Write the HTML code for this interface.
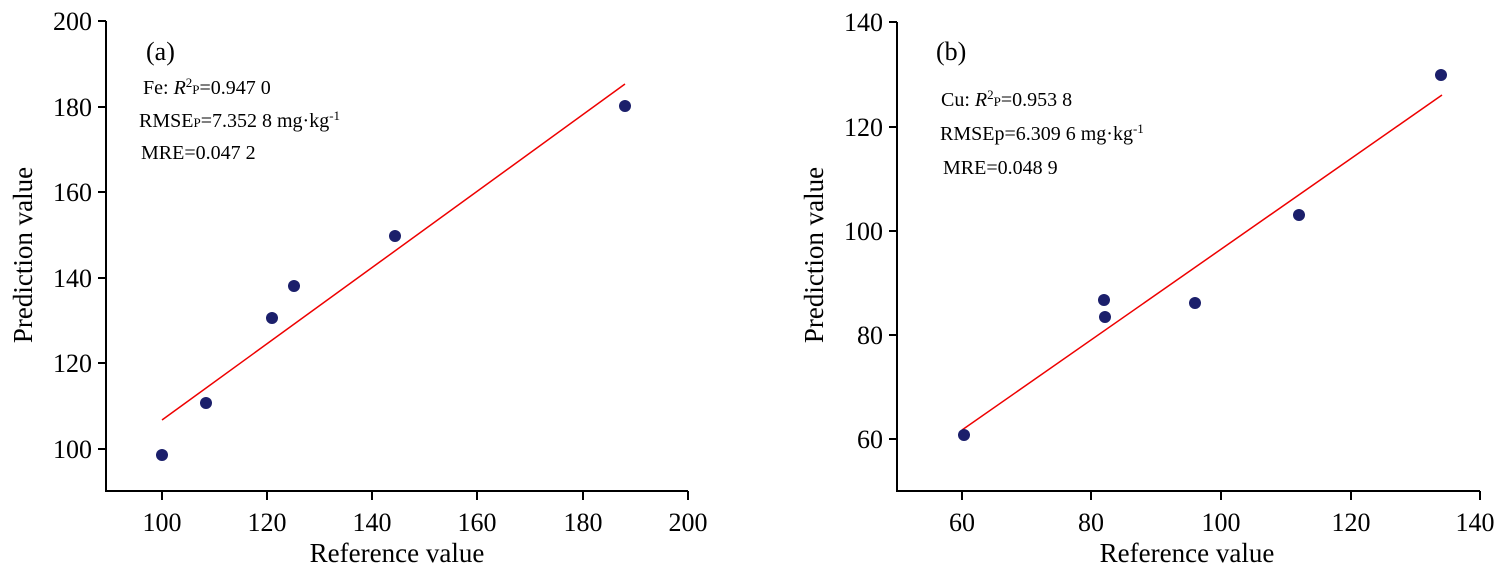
<!DOCTYPE html>
<html><head><style>body{margin:0;background:#fff}svg text{font-family:"Liberation Serif",serif;fill:#000}</style></head><body>
<svg width="1500" height="572" xmlns="http://www.w3.org/2000/svg">
<g stroke="#000" stroke-width="2" fill="none">
<path d="M106,21 V491 H688"/>
<path d="M98,21H106M98,107H106M98,192H106M98,278H106M98,363H106M98,449H106"/>
<path d="M162,491V500M267,491V500M372,491V500M477,491V500M583,491V500M688,491V500"/>
<path d="M897,22 V491 H1480"/>
<path d="M889,22H897M889,127H897M889,231H897M889,335H897M889,439H897"/>
<path d="M962,491V500M1091,491V500M1221,491V500M1351,491V500M1480,491V500"/>
</g>
<g font-size="26" text-anchor="end">
<text x="92" y="30">200</text><text x="92" y="116">180</text><text x="92" y="201">160</text><text x="92" y="287">140</text><text x="92" y="372">120</text><text x="92" y="458">100</text>
<text x="883" y="31">140</text><text x="883" y="136">120</text><text x="883" y="240">100</text><text x="883" y="344">80</text><text x="883" y="448">60</text>
</g>
<g font-size="26" text-anchor="middle">
<text x="162" y="531">100</text><text x="267" y="531">120</text><text x="372" y="531">140</text><text x="477" y="531">160</text><text x="583" y="531">180</text><text x="688" y="531">200</text>
<text x="962" y="531">60</text><text x="1091" y="531">80</text><text x="1221" y="531">100</text><text x="1351" y="531">120</text><text x="1475" y="531">140</text>
</g>
<g font-size="27" text-anchor="middle">
<text x="397" y="562">Reference value</text><text x="1187" y="562">Reference value</text>
<text transform="translate(32,255) rotate(-90)">Prediction value</text>
<text transform="translate(823,255) rotate(-90)">Prediction value</text>
</g>
<line x1="162" y1="420" x2="625" y2="84" stroke="#e00" stroke-width="1.5"/>
<line x1="962" y1="430" x2="1442" y2="95" stroke="#e00" stroke-width="1.5"/>
<g fill="#1b1f6b">
<circle cx="162" cy="455" r="6"/><circle cx="206" cy="403" r="6"/><circle cx="272" cy="318" r="6"/><circle cx="294" cy="286" r="6"/><circle cx="395" cy="236" r="6"/><circle cx="625" cy="106" r="6"/>
<circle cx="964" cy="435" r="6"/><circle cx="1104" cy="300" r="6"/><circle cx="1105" cy="317" r="6"/><circle cx="1195" cy="303" r="6"/><circle cx="1299" cy="215" r="6"/><circle cx="1441" cy="75" r="6"/>
</g>
<text x="146" y="60" font-size="26">(a)</text>
<g font-size="20">
<text x="143" y="94">Fe: <tspan font-style="italic">R</tspan><tspan font-size="13" dy="-7">2</tspan><tspan font-size="13" dy="7">P</tspan>=0.947 0</text>
<text x="139" y="127">RMSE<tspan font-size="13">P</tspan>=7.352 8 mg·kg<tspan font-size="13" dy="-7">-1</tspan></text>
<text x="141" y="159">MRE=0.047 2</text>
</g>
<text x="936" y="60" font-size="26">(b)</text>
<g font-size="20">
<text x="941" y="106">Cu: <tspan font-style="italic">R</tspan><tspan font-size="13" dy="-7">2</tspan><tspan font-size="13" dy="7">P</tspan>=0.953 8</text>
<text x="940" y="140">RMSEp=6.309 6 mg·kg<tspan font-size="13" dy="-7">-1</tspan></text>
<text x="943" y="174">MRE=0.048 9</text>
</g>
</svg>
</body></html>
